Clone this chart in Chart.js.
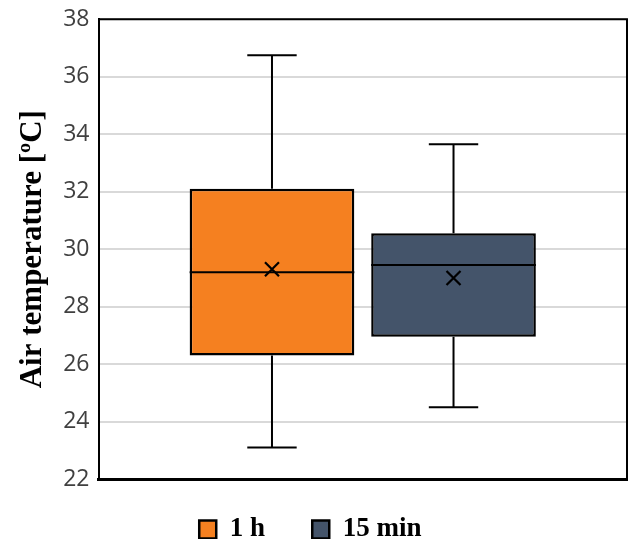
<!DOCTYPE html>
<html>
<head>
<meta charset="utf-8">
<script src="https://cdn.jsdelivr.net/npm/chart.js@4"></script>
<style>
  body { margin: 0; background: #fff; }
  #wrap { width: 640px; height: 539px; }
</style>
</head>
<body>
<div id="wrap"><canvas id="boxChart"></canvas></div>
<script>
const categories = ['Air temperature'];
const seriesNames = ['1 h', '15 min'];
const seriesColors = ['#F58020', '#44546A'];
const mins = [23.1, 24.5];
const q1s = [26.3, 26.95];
const medians = [29.2, 29.45];
const q3s = [32.1, 30.55];
const maxs = [36.75, 33.65];
const means = [29.3, 29.0];
const yTicks = [22, 24, 26, 28, 30, 32, 34, 36, 38];

// whiskers, median, mean cross and the frame around the plot
const boxExtras = {
  id: 'boxExtras',
  afterDatasetsDraw(chart) {
    const { ctx, scales: { y }, chartArea } = chart;
    ctx.save();
    ctx.strokeStyle = '#000';
    chart.data.datasets.forEach((ds, di) => {
      const bar = chart.getDatasetMeta(di).data[0];
      const x = bar.x;
      const w = bar.width;
      const cap = w * 0.3;
      const yMin = y.getPixelForValue(mins[di]);
      const yQ1 = y.getPixelForValue(q1s[di]);
      const yQ3 = y.getPixelForValue(q3s[di]);
      const yMax = y.getPixelForValue(maxs[di]);
      const yMed = y.getPixelForValue(medians[di]);
      const yMean = y.getPixelForValue(means[di]);

      ctx.lineWidth = 2;
      ctx.beginPath();
      ctx.moveTo(x, yQ3); ctx.lineTo(x, yMax);
      ctx.moveTo(x - cap / 2, yMax); ctx.lineTo(x + cap / 2, yMax);
      ctx.moveTo(x, yQ1); ctx.lineTo(x, yMin);
      ctx.moveTo(x - cap / 2, yMin); ctx.lineTo(x + cap / 2, yMin);
      ctx.stroke();

      ctx.lineWidth = 2;
      ctx.beginPath();
      ctx.moveTo(x - w / 2, yMed); ctx.lineTo(x + w / 2, yMed);
      ctx.stroke();

      const r = 7;
      ctx.lineWidth = 2.2;
      ctx.beginPath();
      ctx.moveTo(x - r, yMean - r); ctx.lineTo(x + r, yMean + r);
      ctx.moveTo(x - r, yMean + r); ctx.lineTo(x + r, yMean - r);
      ctx.stroke();
    });

    ctx.lineWidth = 2;
    ctx.beginPath();
    ctx.moveTo(chartArea.left, chartArea.top);
    ctx.lineTo(chartArea.right, chartArea.top);
    ctx.lineTo(chartArea.right, chartArea.bottom);
    ctx.stroke();
    ctx.restore();
  }
};

const ctx = document.getElementById('boxChart').getContext('2d');
const chart = new Chart(ctx, {
  type: 'bar',
  data: {
    labels: categories,
    datasets: seriesNames.map((name, i) => ({
      label: name,
      data: [[q1s[i], q3s[i]]],
      backgroundColor: seriesColors[i],
      borderColor: '#000',
      borderWidth: 2.5,
      borderSkipped: false,
      categoryPercentage: 0.687,
      barPercentage: 0.907
    }))
  },
  options: {
    responsive: true,
    maintainAspectRatio: false,
    animation: false,
    layout: { padding: { top: 0, right: 13, left: 14, bottom: -14 } },
    plugins: {
      tooltip: { enabled: false },
      legend: {
        position: 'bottom',
        labels: {
          boxWidth: 17,
          boxHeight: 18,
          padding: 0,
          color: '#000',
          font: { family: 'Liberation Serif', size: 27, weight: 'bold' },
          generateLabels(chart) {
            const items = Chart.defaults.plugins.legend.labels.generateLabels(chart);
            // spacing between the legend entries, and a little shift to the left
            items[0].text += '       ';
            items[items.length - 1].text += '   ';
            return items;
          }
        }
      }
    },
    scales: {
      x: {
        grid: { display: false },
        border: { display: true, color: '#000', width: 3 },
        ticks: { display: false },
        afterFit(axis) { axis.height = 37; }
      },
      y: {
        min: 22,
        max: 38,
        afterBuildTicks: (axis) => { axis.ticks = yTicks.map(v => ({ value: v })); },
        grid: { color: '#d9d9d9', lineWidth: 2, drawTicks: false },
        border: { display: true, color: '#000', width: 2 },
        ticks: {
          padding: 9,
          color: '#404040',
          font: { family: 'Open Sans', size: 23, lineHeight: 0.9 }
        },
        title: {
          display: true,
          text: 'Air temperature [ºC]',
          color: '#000',
          padding: { top: 0, bottom: 3 },
          font: { family: 'Liberation Serif', size: 31, weight: 'bold' }
        }
      }
    }
  },
  plugins: [boxExtras]
});
</script>
</body>
</html>
